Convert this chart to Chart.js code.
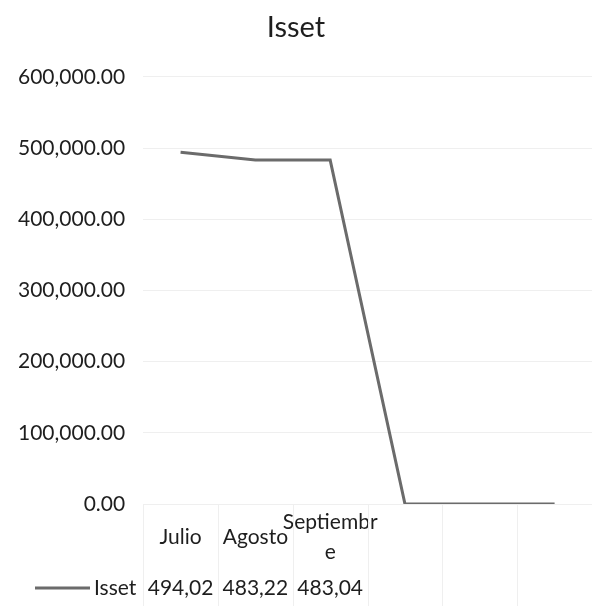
<!DOCTYPE html>
<html>
<head>
<meta charset="utf-8">
<script src="https://cdn.jsdelivr.net/npm/chart.js@4"></script>
<style>
  html, body { margin: 0; padding: 0; background: #fff; }
  #wrap { width: 592px; height: 606px; }
</style>
</head>
<body>
<div id="wrap"><canvas id="issetChart"></canvas></div>
<script>
const categories = ["Julio", "Agosto", ["Septiembr", "e"], "", "", ""];
const issetValues = [494020, 483220, 483040, 0, 0, 0];
const tableCount = 3; // only the first three months appear in the data table
const yTicks = { min: 0, max: 600000, step: 100000 };

const lineColor = "#6b6b6b";
const gridColor = "#efefef";
const textColor = "#1e1e1e";
const fontFamily = "Lato, 'Open Sans', sans-serif";

// data table under the axis: cell borders, legend key and the (clipped) values
const dataTablePlugin = {
  id: "dataTable",
  beforeDatasetsDraw(chart) {
    const ctx = chart.ctx;
    const x = chart.scales.x;
    const area = chart.chartArea;
    const step = x.getPixelForValue(1) - x.getPixelForValue(0);

    ctx.save();
    ctx.strokeStyle = gridColor;
    ctx.lineWidth = 1;
    for (let i = 0; i <= chart.data.labels.length; i++) {
      const px = Math.round(x.getPixelForValue(0) - step / 2 + i * step) + 0.5;
      ctx.beginPath();
      ctx.moveTo(px, area.bottom);
      ctx.lineTo(px, chart.height);
      ctx.stroke();
    }
    ctx.restore();
  },
  afterDraw(chart) {
    const ctx = chart.ctx;
    const x = chart.scales.x;
    const ds = chart.data.datasets[0];
    const rowY = 588;

    ctx.save();
    ctx.strokeStyle = ds.borderColor;
    ctx.lineWidth = 3;
    ctx.beginPath();
    ctx.moveTo(35, rowY);
    ctx.lineTo(90, rowY);
    ctx.stroke();

    ctx.fillStyle = textColor;
    ctx.font = "21px " + fontFamily;
    ctx.textBaseline = "middle";
    ctx.textAlign = "left";
    ctx.fillText(ds.label, 94, rowY);

    ctx.textAlign = "center";
    ds.data.slice(0, tableCount).forEach((v, i) => {
      // the narrow cell cuts "494,020.00" down to "494,02"
      const txt = Math.round(v).toLocaleString("en-US").slice(0, 6);
      ctx.fillText(txt, x.getPixelForValue(i), rowY);
    });
    ctx.restore();
  },
};

document.addEventListener("DOMContentLoaded", () => {
  const ctx = document.getElementById("issetChart").getContext("2d");

  new Chart(ctx, {
    type: "line",
    data: {
      labels: categories,
      datasets: [
        {
          label: "Isset",
          data: issetValues,
          borderColor: lineColor,
          borderWidth: 3,
          pointRadius: 0,
          tension: 0,
          fill: false,
        },
      ],
    },
    options: {
      responsive: true,
      maintainAspectRatio: false,
      animation: false,
      layout: {
        padding: { left: 0, right: 0, top: 6, bottom: 13 },
      },
      plugins: {
        legend: { display: false },
        tooltip: { enabled: false },
        title: {
          display: true,
          text: "Isset",
          color: textColor,
          font: { family: fontFamily, size: 29, weight: "normal" },
          padding: { top: 4, bottom: 32 },
        },
      },
      scales: {
        x: {
          offset: true,
          grid: { offset: true, display: false },
          border: { display: false },
          ticks: {
            color: textColor,
            font: { family: fontFamily, size: 21, lineHeight: 1.45 },
            padding: 10,
            maxRotation: 0,
            autoSkip: false,
            crossAlign: "center",
          },
        },
        y: {
          min: yTicks.min,
          max: yTicks.max,
          grid: { color: gridColor, drawTicks: false },
          border: { display: false },
          ticks: {
            stepSize: yTicks.step,
            padding: 18,
            color: textColor,
            font: { family: fontFamily, size: 21 },
            callback: (v) =>
              v.toLocaleString("en-US", {
                minimumFractionDigits: 2,
                maximumFractionDigits: 2,
              }),
          },
        },
      },
    },
    plugins: [dataTablePlugin],
  });
});
</script>
</body>
</html>
